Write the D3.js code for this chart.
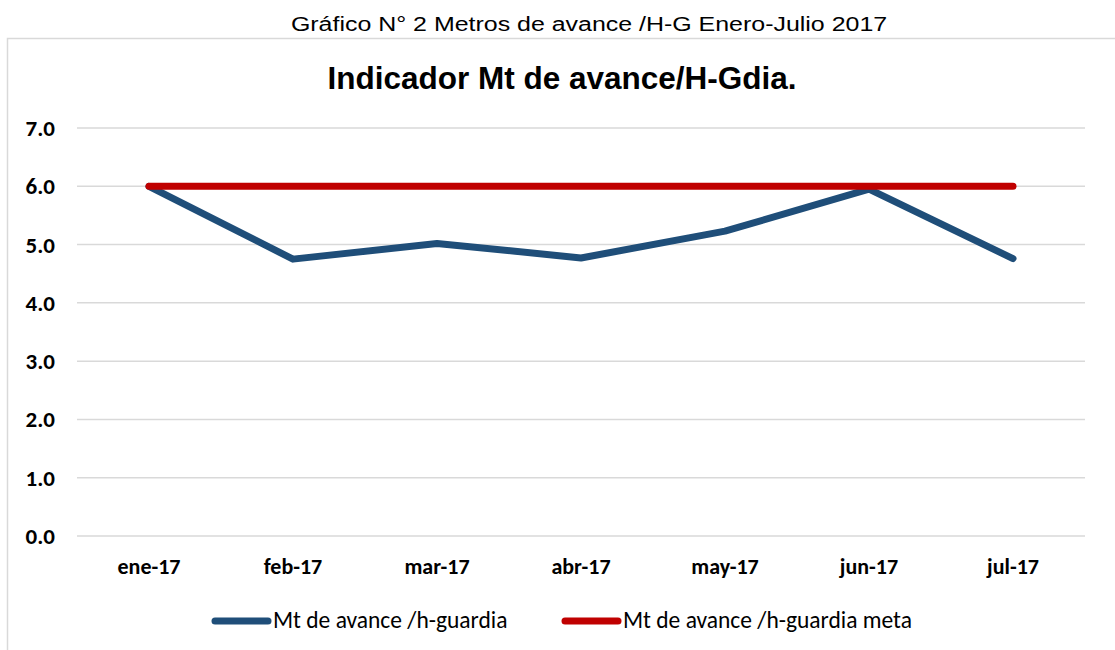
<!DOCTYPE html>
<html>
<head>
<meta charset="utf-8">
<script src="https://cdn.jsdelivr.net/npm/d3@7"></script>
<style>
  body { margin: 0; background: #fff; }
</style>
</head>
<body>
<div id="chart"></div>
<script>
const months = ["ene-17", "feb-17", "mar-17", "abr-17", "may-17", "jun-17", "jul-17"]
const avance = [6.0, 4.75, 5.02, 4.77, 5.23, 5.95, 4.76]
const meta = [6.0, 6.0, 6.0, 6.0, 6.0, 6.0, 6.0]
const yTicks = [0, 1, 2, 3, 4, 5, 6, 7]
const seriesNames = ["Mt de avance /h-guardia", "Mt de avance /h-guardia meta"]
const seriesColors = ["#1f4e79", "#c00000"]

const width = 1115, height = 650
const labelFont = "Carlito, Calibri, 'Liberation Sans Narrow', sans-serif"

const svg = d3.select("#chart").append("svg")
  .attr("width", width)
  .attr("height", height)

// outer caption (the original image is stretched sideways a bit)
svg.append("text")
  .attr("transform", "translate(589,31) scale(1.28,1)")
  .attr("text-anchor", "middle")
  .attr("font-family", "Arial, 'Liberation Sans', sans-serif")
  .attr("font-size", 19.5)
  .attr("fill", "#000")
  .text("Gráfico N° 2 Metros de avance /H-G Enero-Julio 2017")

// chart frame
svg.append("path")
  .attr("d", `M7.5,${height}V38.5H${width}`)
  .attr("fill", "none")
  .attr("stroke", "#d9d9d9")
  .attr("stroke-width", 1.5)

svg.append("text")
  .attr("x", 562).attr("y", 89)
  .attr("text-anchor", "middle")
  .attr("font-family", "Arial, 'Liberation Sans', sans-serif")
  .attr("font-weight", "bold")
  .attr("font-size", 31.5)
  .text("Indicador Mt de avance/H-Gdia.")

const x = d3.scaleBand().domain(months).range([77, 1085])
const y = d3.scaleLinear().domain([0, 7]).range([536, 128])

// grid
svg.append("g")
  .selectAll("line")
  .data(yTicks)
  .join("line")
    .attr("x1", 77).attr("x2", 1085)
    .attr("y1", d => y(d)).attr("y2", d => y(d))
    .attr("stroke", "#d9d9d9")
    .attr("stroke-width", 1.5)

// y labels
svg.append("g")
  .selectAll("text")
  .data(yTicks)
  .join("text")
    .attr("x", 55)
    .attr("y", d => y(d) + 8)
    .attr("text-anchor", "end")
    .attr("font-family", labelFont)
    .attr("font-weight", "bold")
    .attr("font-size", 23)
    .text(d => d.toFixed(1))

// x labels
svg.append("g")
  .selectAll("text")
  .data(months)
  .join("text")
    .attr("x", d => x(d) + x.bandwidth() / 2)
    .attr("y", 574)
    .attr("text-anchor", "middle")
    .attr("font-family", labelFont)
    .attr("font-weight", "bold")
    .attr("font-size", 22)
    .text(d => d)

const line = d3.line()
  .x((d, i) => x(months[i]) + x.bandwidth() / 2)
  .y(d => y(d))

;[avance, meta].forEach((vals, i) => {
  svg.append("path")
    .datum(vals)
    .attr("d", line)
    .attr("fill", "none")
    .attr("stroke", seriesColors[i])
    .attr("stroke-width", 7)
    .attr("stroke-linecap", "round")
    .attr("stroke-linejoin", "round")
})

// legend
const legendItems = [
  {x1: 215, x2: 268, tx: 273},
  {x1: 565, x2: 618, tx: 623}
]
legendItems.forEach((l, i) => {
  svg.append("line")
    .attr("x1", l.x1).attr("x2", l.x2)
    .attr("y1", 621).attr("y2", 621)
    .attr("stroke", seriesColors[i])
    .attr("stroke-width", 7)
    .attr("stroke-linecap", "round")
  svg.append("text")
    .attr("x", l.tx).attr("y", 628)
    .attr("font-family", labelFont)
    .attr("font-size", 23.5)
    .text(seriesNames[i])
})
</script>
</body>
</html>
